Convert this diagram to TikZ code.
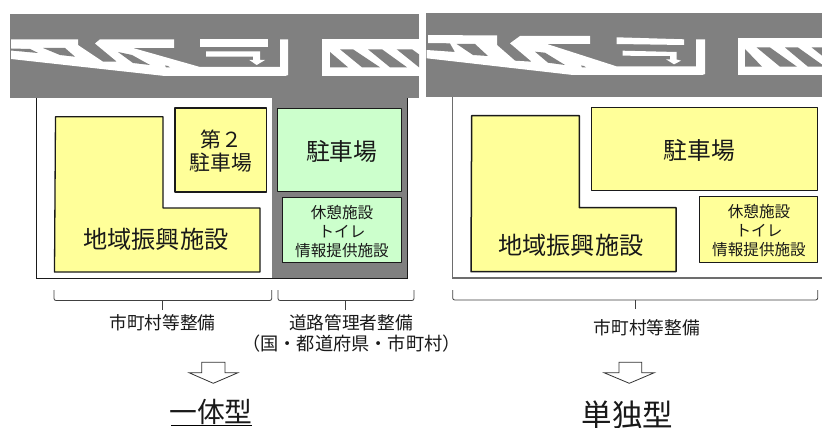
\documentclass[tikz,border=0pt]{standalone}
\usepackage{fontspec}
\setmainfont{Noto Sans CJK JP}
\definecolor{roadgray}{HTML}{808080}
\definecolor{fillyellow}{HTML}{FFFF99}
\definecolor{fillgreen}{HTML}{CCFFCC}
\definecolor{edgedark}{HTML}{1A1A1A}
\tikzset{
  x=1pt,y=-1pt,
  roadarea/.style={fill=roadgray,draw=none},
  paint/.style={fill=white,draw=none},
  gap/.style={fill=roadgray,draw=none},
  yellowshape/.style={fill=fillyellow,draw=edgedark,line width=1.3pt,line join=round},
  greenshape/.style={fill=fillgreen,draw=edgedark,line width=1pt,line join=round},
  bracket/.style={draw=black!75,line width=0.8pt,rounded corners=2pt},
  openarrow/.style={draw=black!80,fill=white,line width=0.8pt},
  txt/.style={inner sep=0pt,outer sep=0pt,align=center,text=black!90},
  bigtxt/.style={txt,font=\fontsize{24.2}{26}\selectfont},
  parktxt/.style={txt,font=\fontsize{23.8}{26}\selectfont},
  midtxt/.style={txt,font=\fontsize{20.8}{23}\selectfont},
  smalltxt/.style={txt,font=\fontsize{15.6}{18.7}\selectfont},
  notetxt/.style={txt,font=\fontsize{17.7}{21}\selectfont},
}
\begin{document}
\begin{tikzpicture}
\useasboundingbox (0,0) rectangle (822,428);
\fill[white] (0,0) rectangle (822,428);

% ---------- left road ----------
\fill[roadarea] (10,14) rectangle (419,98);
\begin{scope}
\clip (10,14) rectangle (419,98);
\fill[paint] (11,39.5) -- (78,39.5) -- (78,45) -- (103,61.7) -- (117,61.7) -- (95,43.5) -- (100,39.3) -- (174,39.3) -- (174,48) -- (133,48) -- (200,67) -- (280,67) -- (280,39.5) -- (288,39.5) -- (288,75) -- (285,76) -- (165,76) -- (11,59) -- cycle;
\fill[gap] (11,48.5) -- (30,49) -- (38,53) -- (11,50.5) -- cycle;
\fill[gap] (43,48) -- (65,48) -- (75,56.7) -- (60,55) -- cycle;
\fill[gap] (118,52) -- (132,55) -- (150,65) -- (133,63) -- cycle;
\fill[gap] (165,65.5) -- (168,66) -- (170,67.5) -- (166,67.5) -- cycle;
\fill[paint] (200,39.3) rectangle (268,46.7);
\fill[paint] (206,51.5) -- (260,51.5) -- (260,60) -- (265,60) -- (256.7,65) -- (249.3,60) -- (253,60) -- (253,56.7) -- (206,56.7) -- cycle;
\fill[paint] (321.5,39) rectangle (430,76);
\fill[gap] (330,52) -- (330,67.3) -- (348,67.3) -- cycle;
\fill[gap] (340,49.3) -- (353,49.3) -- (380,67.3) -- (362,67.3) -- cycle;
\fill[gap] (368,49.3) -- (382,49.3) -- (407,67.3) -- (390,67.3) -- cycle;
\fill[gap] (396.7,49.3) -- (412,49.3) -- (437,67.3) -- (419,67.3) -- cycle;
\end{scope}

% ---------- right road ----------
\fill[roadarea] (426,13) rectangle (822,97);
\begin{scope}
\clip (426,13) rectangle (822,97);
\fill[paint] (428,35) -- (497,35.5) -- (497,45) -- (515,60.7) -- (531.7,61.7) -- (510,43.3) -- (520,36) -- (590,36) -- (590,44) -- (547,44) -- (617,66.5) -- (696,66.5) -- (696,39.3) -- (705,39.3) -- (705,74) -- (702,75) -- (573,75) -- (426.7,58.3) -- (426.7,50) -- (455,52) -- (450,43.3) -- (428,43) -- cycle;
\fill[gap] (456.7,44) -- (475,44) -- (488,56) -- (473,55) -- cycle;
\fill[gap] (535,51.7) -- (545,52.7) -- (565,65) -- (548,62.7) -- cycle;
\fill[gap] (581,65.5) -- (584,66) -- (586,67.5) -- (582,67.5) -- cycle;
\fill[paint] (616.7,37.3) -- (684,39.3) -- (684,45) -- (616.7,44) -- cycle;
\fill[paint] (622.7,50.7) -- (676.7,52) -- (676.7,59.5) -- (681,60.7) -- (674,64.3) -- (666,59.3) -- (670,59.3) -- (670,56) -- (622.7,55.7) -- cycle;
\fill[paint] (737.7,38.5) rectangle (830,75);
\fill[gap] (745,49) -- (745,66.7) -- (762,66.7) -- cycle;
\fill[gap] (756.7,47.5) -- (770,47.5) -- (797,66.7) -- (780,66.7) -- cycle;
\fill[gap] (785,47.5) -- (798,47.5) -- (825,66.7) -- (808,66.7) -- cycle;
\fill[gap] (811.7,47.5) -- (826,47.5) -- (853,66.7) -- (836,66.7) -- cycle;
\end{scope}

% ---------- left site ----------
\fill[roadgray] (272,98) rectangle (407,278);
\draw[edgedark,line width=0.9pt] (36,98) -- (36,278) -- (407.5,278) -- (407.5,98);

\draw[yellowshape] (55.5,116.7) -- (163,116.7) -- (163,208) -- (260,208) -- (260,272) -- (54.5,272) -- cycle;
\node[bigtxt] (facL) at (155.8,239.5) {地域振興施設};

\node[yellowshape,minimum width=91.5pt,minimum height=84pt,inner sep=0pt,line width=1.5pt] (p2box) at (220.8,150) {};
\node[midtxt] (p2txt) at (221,151.5) {第２\\駐車場};

\node[greenshape,minimum width=124.5pt,minimum height=83.5pt,inner sep=0pt] (parkL) at (339.4,150) {};
\node[parktxt] (parkLt) at (341.7,151) {駐車場};

\node[greenshape,minimum width=119pt,minimum height=65.5pt,inner sep=0pt] (restL) at (342.2,230) {};
\node[smalltxt] (restLt) at (342,231.5) {休憩施設\\トイレ\\情報提供施設};

% ---------- right site ----------
\draw[roadgray!85!black,line width=1.2pt] (452.7,97) -- (452.7,278) -- (822,278);

\draw[yellowshape,line width=1.5pt] (471.7,115.7) -- (579.3,115.7) -- (579.3,207.7) -- (676,207.7) -- (676,271.7) -- (471,271.7) -- cycle;
\node[bigtxt] (facR) at (570.8,245) {地域振興施設};

\node[yellowshape,line width=0.9pt,minimum width=226pt,minimum height=82.3pt,inner sep=0pt] (parkR) at (704.7,148.8) {};
\node[parktxt] (parkRt) at (699.5,150) {駐車場};

\node[yellowshape,line width=0.9pt,minimum width=118.4pt,minimum height=66pt,inner sep=0pt] (restR) at (758.5,229.7) {};
\node[smalltxt] (restRt) at (759,230.5) {休憩施設\\トイレ\\情報提供施設};

% ---------- brackets ----------
\coordinate (b1a) at (54,290); \coordinate (b1b) at (271.7,290); \coordinate (b1t) at (162.7,310);
\coordinate (b2a) at (278,290); \coordinate (b2b) at (414,290); \coordinate (b2t) at (345.7,310);
\coordinate (b3a) at (452.7,290); \coordinate (b3b) at (817.7,290); \coordinate (b3t) at (635,309);
\draw[bracket] (b1a) -- (54,300.5) -- (271.7,300.5) -- (b1b);
\draw[bracket] (162.7,300.5) -- (b1t);
\draw[bracket] (b2a) -- (278,300.5) -- (414,300.5) -- (b2b);
\draw[bracket] (345.7,300.5) -- (b2t);
\draw[bracket] (b3a) -- (452.7,300) -- (817.7,300) -- (b3b);
\draw[bracket] (635,300) -- (b3t);

\node[notetxt] (mun1) at (162.5,323) {市町村等整備};
\node[notetxt] (road1) at (351,323) {道路管理者整備};
\node[notetxt,font=\fontsize{18.2}{21}\selectfont] (road2) at (351.5,344) {（国・都道府県・市町村）};
\node[notetxt] (mun2) at (646.7,327.5) {市町村等整備};

% ---------- arrows ----------
\draw[openarrow] (201.7,362.3) -- (225,362.3) -- (225,372.7) -- (238,372.7) -- (213.3,383.3) -- (189,372.7) -- (201.7,372.7) -- cycle;
\draw[openarrow] (619,362.3) -- (641.7,362.3) -- (641.7,372.7) -- (654.3,372.7) -- (629.3,383.3) -- (604,372.7) -- (619,372.7) -- cycle;

% ---------- titles ----------
\node[txt,font=\fontsize{27.8}{30}\selectfont] (titleL) at (211,412) {一体型};
\draw[black,line width=1pt] (171,425.7) -- (252,425.7);
\node[txt,font=\fontsize{30.5}{33}\selectfont] (titleR) at (627.5,414.5) {単独型};
\end{tikzpicture}
\end{document}
